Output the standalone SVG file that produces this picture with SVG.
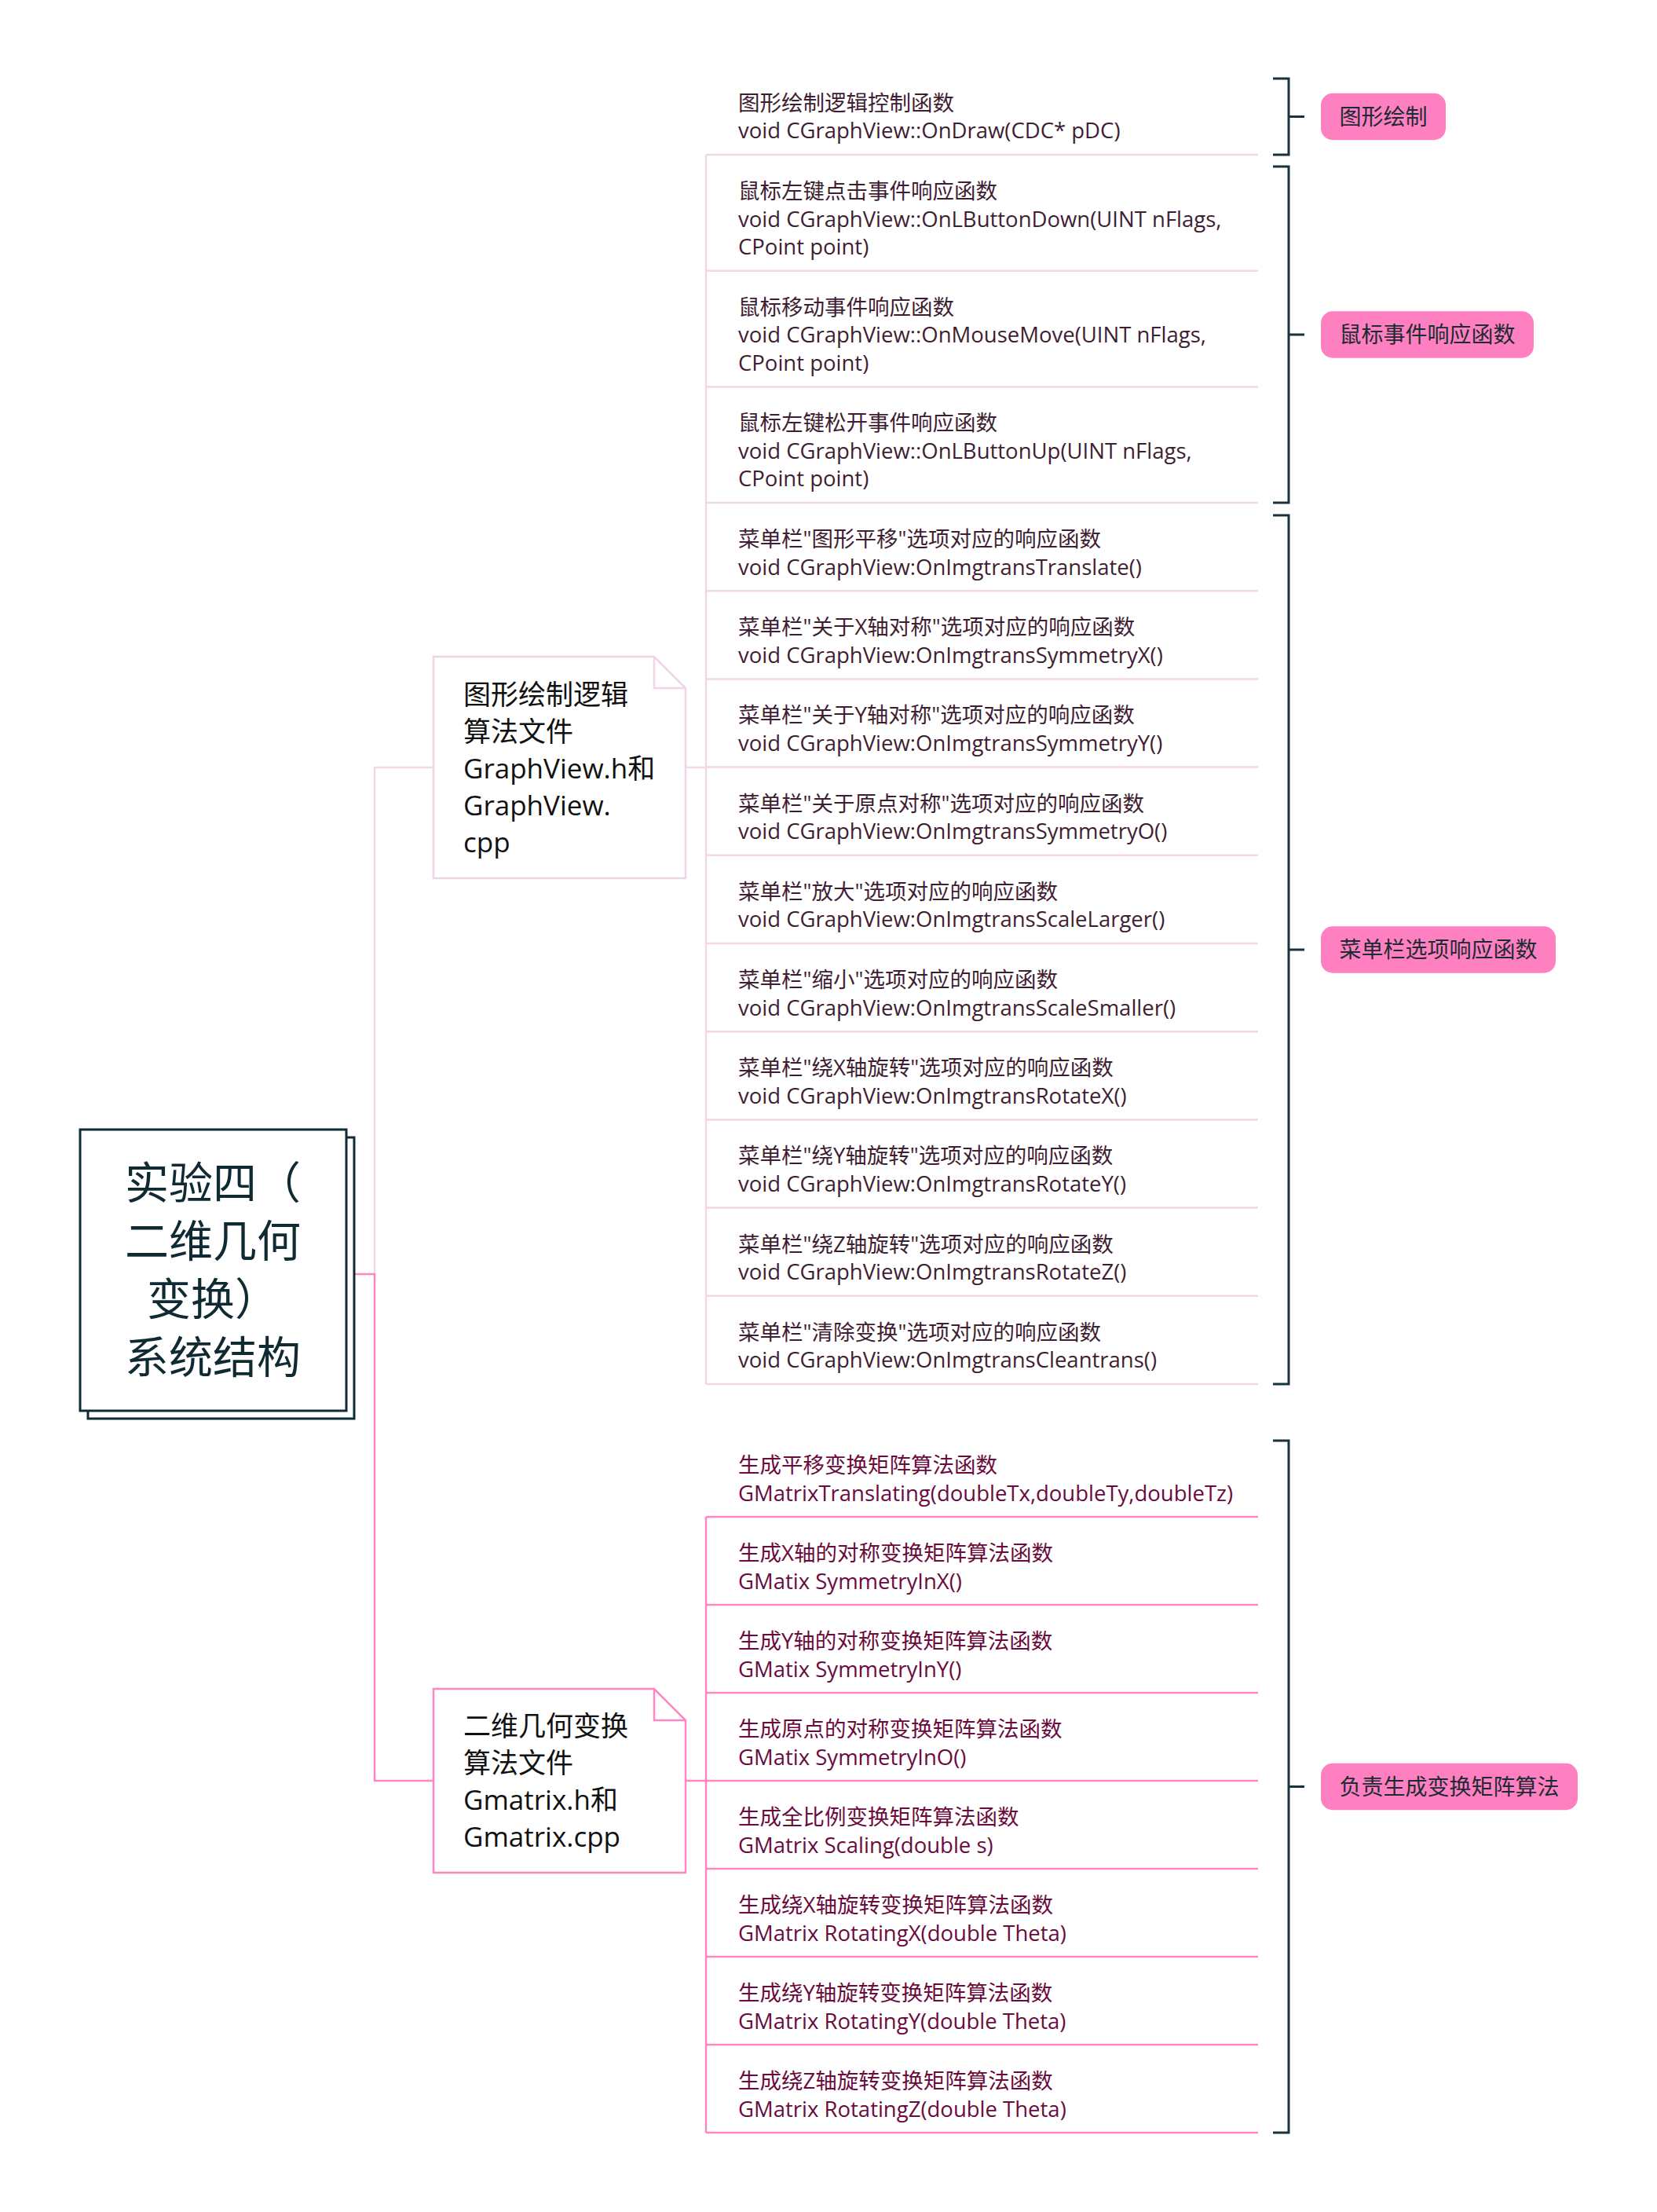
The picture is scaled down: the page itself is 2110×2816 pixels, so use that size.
<svg xmlns="http://www.w3.org/2000/svg" width="2110" height="2816" viewBox="0 0 2110 2816">
<style>
text{font-family:'Open Sans','Noto Sans CJK SC',sans-serif}
.t1{font-size:27.5px;fill:#3f1e33}
.t2{font-size:27.5px;fill:#6b0b3d}
.dt{font-size:35px;fill:#111111}
.lt{font-size:28px;fill:#1b2b33;text-anchor:middle}
.mt{font-size:56px;fill:#0f2a33;text-anchor:middle}
.lp{stroke:#f2d7e8;stroke-width:2.5;fill:none}
.bp{stroke:#ff86c3;stroke-width:2.5;fill:none}
.br{stroke:#17343c;stroke-width:3;fill:none}
.lab{fill:#ff80c0}
.mn{fill:#ffffff;stroke:#0f2c35;stroke-width:3}
</style>
<rect width="2110" height="2816" fill="#ffffff"/>
<g id="connectors">
<path class="lp" d="M477,1622 V977 H552"/>
<path class="bp" d="M451,1622 H477 V2267 H552"/>
<path class="lp" d="M873,977 H899 M899,197 V1762"/>
<path class="lp" d="M899,197 H1602 M899,344.7 H1602 M899,492.4 H1602 M899,640 H1602 M899,752.2 H1602 M899,864.4 H1602 M899,976.6 H1602 M899,1088.8 H1602 M899,1201 H1602 M899,1313.2 H1602 M899,1425.4 H1602 M899,1537.6 H1602 M899,1649.8 H1602 M899,1762 H1602"/>
<path class="bp" d="M873,2267 H899 M899,1931 V2715"/>
<path class="bp" d="M899,1931 H1602 M899,2043 H1602 M899,2155 H1602 M899,2267 H1602 M899,2379 H1602 M899,2491 H1602 M899,2603 H1602 M899,2715 H1602"/>
<path class="br" d="M1621,100 H1641 V197 H1621 M1641,148.5 H1661"/>
<path class="br" d="M1621,212 H1641 V640 H1621 M1641,426 H1661"/>
<path class="br" d="M1621,656 H1641 V1762 H1621 M1641,1209 H1661"/>
<path class="br" d="M1621,1834 H1641 V2715 H1621 M1641,2274.5 H1661"/>
</g>
<g id="main">
<rect class="mn" x="112" y="1448" width="339" height="358"/>
<rect class="mn" x="102" y="1438" width="339" height="358"/>
<text class="mt" x="271" y="1526">实验四（</text>
<text class="mt" x="271" y="1600">二维几何</text>
<text class="mt" x="271" y="1674">变换）</text>
<text class="mt" x="271" y="1748">系统结构</text>
</g>
<g id="doc1">
<path d="M552,836 H833 L873,876 V1118 H552 Z M833,836 V876 H873" fill="#ffffff" stroke="#efd3e6" stroke-width="2.5"/>
<text class="dt" x="590" y="897">图形绘制逻辑</text>
<text class="dt" x="590" y="944">算法文件</text>
<text class="dt" x="590" y="991">GraphView.h和</text>
<text class="dt" x="590" y="1038">GraphView.</text>
<text class="dt" x="590" y="1085">cpp</text>
</g>
<g id="doc2">
<path d="M552,2150 H833 L873,2190 V2384 H552 Z M833,2150 V2190 H873" fill="#ffffff" stroke="#ff86c3" stroke-width="2.5"/>
<text class="dt" x="590" y="2210">二维几何变换</text>
<text class="dt" x="590" y="2257">算法文件</text>
<text class="dt" x="590" y="2304">Gmatrix.h和</text>
<text class="dt" x="590" y="2351">Gmatrix.cpp</text>
</g>
<g id="item1"><text class="t1" x="940" y="141">图形绘制逻辑控制函数</text><text class="t1" x="940" y="176">void CGraphView::OnDraw(CDC* pDC)</text></g>
<g id="item2"><text class="t1" x="940" y="253">鼠标左键点击事件响应函数</text><text class="t1" x="940" y="288.5">void CGraphView::OnLButtonDown(UINT nFlags,</text><text class="t1" x="940" y="324">CPoint point)</text></g>
<g id="item3"><text class="t1" x="940" y="400.7">鼠标移动事件响应函数</text><text class="t1" x="940" y="436.2">void CGraphView::OnMouseMove(UINT nFlags,</text><text class="t1" x="940" y="471.7">CPoint point)</text></g>
<g id="item4"><text class="t1" x="940" y="548.4">鼠标左键松开事件响应函数</text><text class="t1" x="940" y="583.9">void CGraphView::OnLButtonUp(UINT nFlags,</text><text class="t1" x="940" y="619.4">CPoint point)</text></g>
<g id="item5"><text class="t1" x="940" y="696">菜单栏"图形平移"选项对应的响应函数</text><text class="t1" x="940" y="731.5">void CGraphView:OnImgtransTranslate()</text></g>
<g id="item6"><text class="t1" x="940" y="808.2">菜单栏"关于X轴对称"选项对应的响应函数</text><text class="t1" x="940" y="843.7">void CGraphView:OnImgtransSymmetryX()</text></g>
<g id="item7"><text class="t1" x="940" y="920.4">菜单栏"关于Y轴对称"选项对应的响应函数</text><text class="t1" x="940" y="955.9">void CGraphView:OnImgtransSymmetryY()</text></g>
<g id="item8"><text class="t1" x="940" y="1032.6">菜单栏"关于原点对称"选项对应的响应函数</text><text class="t1" x="940" y="1068.1">void CGraphView:OnImgtransSymmetryO()</text></g>
<g id="item9"><text class="t1" x="940" y="1144.8">菜单栏"放大"选项对应的响应函数</text><text class="t1" x="940" y="1180.3">void CGraphView:OnImgtransScaleLarger()</text></g>
<g id="item10"><text class="t1" x="940" y="1257">菜单栏"缩小"选项对应的响应函数</text><text class="t1" x="940" y="1292.5">void CGraphView:OnImgtransScaleSmaller()</text></g>
<g id="item11"><text class="t1" x="940" y="1369.2">菜单栏"绕X轴旋转"选项对应的响应函数</text><text class="t1" x="940" y="1404.7">void CGraphView:OnImgtransRotateX()</text></g>
<g id="item12"><text class="t1" x="940" y="1481.4">菜单栏"绕Y轴旋转"选项对应的响应函数</text><text class="t1" x="940" y="1516.9">void CGraphView:OnImgtransRotateY()</text></g>
<g id="item13"><text class="t1" x="940" y="1593.6">菜单栏"绕Z轴旋转"选项对应的响应函数</text><text class="t1" x="940" y="1629.1">void CGraphView:OnImgtransRotateZ()</text></g>
<g id="item14"><text class="t1" x="940" y="1705.8">菜单栏"清除变换"选项对应的响应函数</text><text class="t1" x="940" y="1741.3">void CGraphView:OnImgtransCleantrans()</text></g>
<g id="gitem1"><text class="t2" x="940" y="1875">生成平移变换矩阵算法函数</text><text class="t2" x="940" y="1910.5">GMatrixTranslating(doubleTx,doubleTy,doubleTz)</text></g>
<g id="gitem2"><text class="t2" x="940" y="1987">生成X轴的对称变换矩阵算法函数</text><text class="t2" x="940" y="2022.5">GMatix SymmetryInX()</text></g>
<g id="gitem3"><text class="t2" x="940" y="2099">生成Y轴的对称变换矩阵算法函数</text><text class="t2" x="940" y="2134.5">GMatix SymmetryInY()</text></g>
<g id="gitem4"><text class="t2" x="940" y="2211">生成原点的对称变换矩阵算法函数</text><text class="t2" x="940" y="2246.5">GMatix SymmetryInO()</text></g>
<g id="gitem5"><text class="t2" x="940" y="2323">生成全比例变换矩阵算法函数</text><text class="t2" x="940" y="2358.5">GMatrix Scaling(double s)</text></g>
<g id="gitem6"><text class="t2" x="940" y="2435">生成绕X轴旋转变换矩阵算法函数</text><text class="t2" x="940" y="2470.5">GMatrix RotatingX(double Theta)</text></g>
<g id="gitem7"><text class="t2" x="940" y="2547">生成绕Y轴旋转变换矩阵算法函数</text><text class="t2" x="940" y="2582.5">GMatrix RotatingY(double Theta)</text></g>
<g id="gitem8"><text class="t2" x="940" y="2659">生成绕Z轴旋转变换矩阵算法函数</text><text class="t2" x="940" y="2694.5">GMatrix RotatingZ(double Theta)</text></g>
<g id="label1"><rect class="lab" x="1682" y="118.75" width="159" height="59.5" rx="15"/><text class="lt" x="1761.5" y="158.5">图形绘制</text></g>
<g id="label2"><rect class="lab" x="1682" y="396.25" width="271" height="59.5" rx="15"/><text class="lt" x="1817.5" y="436">鼠标事件响应函数</text></g>
<g id="label3"><rect class="lab" x="1682" y="1179.25" width="299" height="59.5" rx="15"/><text class="lt" x="1831.5" y="1219">菜单栏选项响应函数</text></g>
<g id="label4"><rect class="lab" x="1682" y="2244.75" width="327" height="59.5" rx="15"/><text class="lt" x="1845.5" y="2284.5">负责生成变换矩阵算法</text></g>
</svg>
